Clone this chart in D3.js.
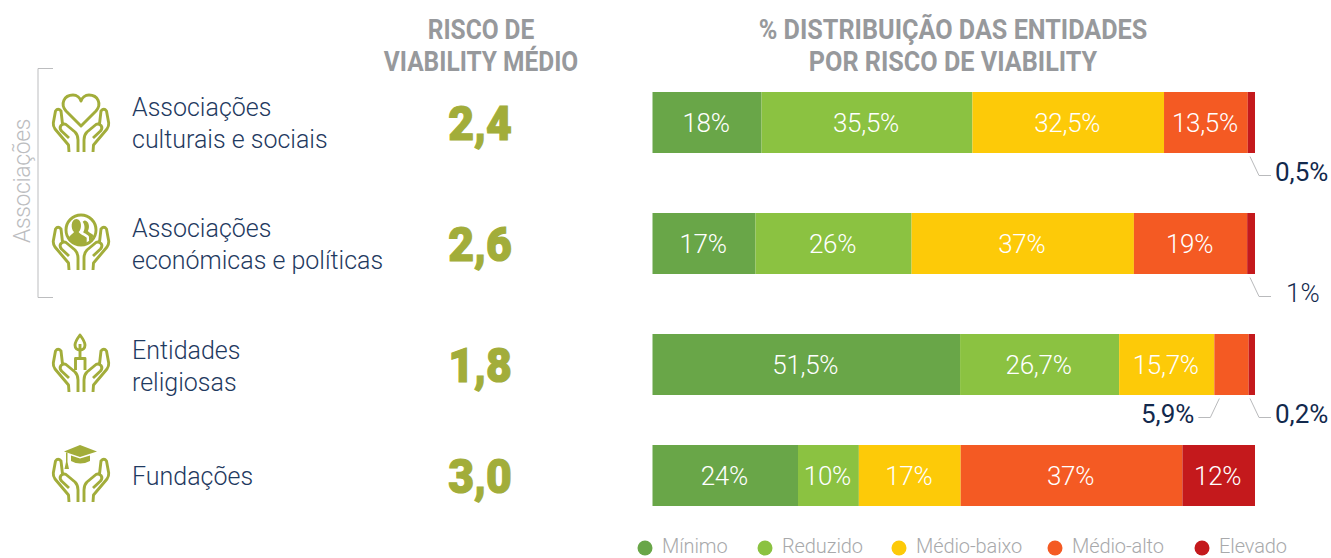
<!DOCTYPE html>
<html lang="pt">
<head>
<meta charset="utf-8">
<title>Risco de viability</title>
<script src="https://cdn.jsdelivr.net/npm/d3@7"></script>
<style>
  html, body { margin: 0; padding: 0; background: #fff; overflow: hidden; }
  svg { display: block; }
  text { font-family: Roboto, sans-serif; }
  .head { font-weight: 700; font-size: 28px; fill: #97999c; text-anchor: middle; }
  .row-label { font-weight: 300; font-size: 25px; fill: #1f3a5f; }
  .score { font-weight: 900; font-size: 49px; fill: #a2ad3a; stroke: #a2ad3a; stroke-width: 1.2px; text-anchor: middle; }
  .bar-label { font-weight: 300; font-size: 26px; fill: #fff; text-anchor: middle; letter-spacing: -0.3px; }
  .out-label { font-weight: 400; font-size: 26px; fill: #12294d; }
  .legend-label { font-weight: 300; font-size: 20px; fill: #a8a9ab; letter-spacing: -0.1px; }
  .icon-line { fill: none; stroke: #a2ad3a; stroke-width: 2.9; stroke-linecap: butt; stroke-linejoin: round; }
  .icon-fill { fill: #a2ad3a; stroke: none; }
</style>
</head>
<body>
<div id="chart"></div>
<script>
  // Data
  const rows = ["culturais", "economicas", "religiosas", "fundacoes"];
  const rowLabels = [
    ["Associações", "culturais e sociais"],
    ["Associações", "económicas e políticas"],
    ["Entidades", "religiosas"],
    ["Fundações"]
  ];
  const scores = ["2,4", "2,6", "1,8", "3,0"];
  const levels = ["Mínimo", "Reduzido", "Médio-baixo", "Médio-alto", "Elevado"];

  // Segment lengths as drawn (the printed labels are kept apart, the two differ a little)
  const minimo = [18.1, 17.1, 51.05, 24.15];
  const reduzido = [35.0, 25.9, 26.4, 10.1];
  const medioBaixo = [31.8, 36.9, 15.8, 16.9];
  const medioAlto = [13.9, 18.8, 5.7, 36.8];
  const elevado = [1.2, 1.3, 1.05, 12.05];

  const minimoLabels = ["18%", "17%", "51,5%", "24%"];
  const reduzidoLabels = ["35,5%", "26%", "26,7%", "10%"];
  const medioBaixoLabels = ["32,5%", "37%", "15,7%", "17%"];
  const medioAltoLabels = ["13,5%", "19%", "", "37%"];
  const elevadoLabels = ["", "", "", "12%"];

  // Small segments labelled outside the bar
  const calloutRows = ["culturais", "economicas", "religiosas", "religiosas"];
  const calloutLevels = ["Elevado", "Elevado", "Médio-alto", "Elevado"];
  const calloutLabels = ["0,5%", "1%", "5,9%", "0,2%"];

  const colors = ["#69a648", "#8bc241", "#fdca08", "#f45a23", "#c4191c"];

  const width = 1331;
  const height = 558;
  const barHeight = 61;

  const svg = d3.select("#chart").append("svg")
    .attr("width", width)
    .attr("height", height);

  // Scales
  const xScale = d3.scaleLinear().domain([0, 100]).range([652.5, 1255]);
  const rowTop = d3.scaleOrdinal().domain(rows).range([92, 213, 334, 445]);
  const labelTop = d3.scaleOrdinal().domain(rows).range([116, 237, 359, 485]);
  const colorScale = d3.scaleOrdinal().domain(levels).range(colors);

  // Stack the series
  const table = rows.map((r, i) => ({
    row: r,
    "Mínimo": minimo[i],
    "Reduzido": reduzido[i],
    "Médio-baixo": medioBaixo[i],
    "Médio-alto": medioAlto[i],
    "Elevado": elevado[i]
  }));
  const labelsByLevel = [minimoLabels, reduzidoLabels, medioBaixoLabels, medioAltoLabels, elevadoLabels];
  const stacked = d3.stack().keys(levels)(table);

  // Headers, squeezed because the original face is condensed
  const headers = [
    { x: 481, squeeze: 0.875, lines: ["RISCO DE", "VIABILITY MÉDIO"] },
    { x: 953, squeeze: 0.9, lines: ["% DISTRIBUIÇÃO DAS ENTIDADES", "POR RISCO DE VIABILITY"] }
  ];
  headers.forEach((h) => {
    h.lines.forEach((line, i) => {
      svg.append("text").attr("class", "head")
        .attr("transform", `translate(${h.x},${39 + i * 32}) scale(${h.squeeze},1)`)
        .text(line);
    });
  });

  // Bars
  const series = svg.selectAll(".series").data(stacked).enter().append("g")
    .attr("class", "series")
    .attr("fill", (d) => colorScale(d.key));

  series.selectAll("rect").data((d) => d).enter().append("rect")
    .attr("x", (d) => xScale(d[0]))
    .attr("y", (d) => rowTop(d.data.row))
    .attr("width", (d) => xScale(d[1]) - xScale(d[0]))
    .attr("height", barHeight);

  series.each(function (s, si) {
    d3.select(this).selectAll("text").data(s).enter().append("text")
      .attr("class", "bar-label")
      .attr("x", (d) => (xScale(d[0]) + xScale(d[1])) / 2 - 1)
      .attr("y", (d) => rowTop(d.data.row) + 40)
      .text((d, i) => labelsByLevel[si][i]);
  });

  // Scores and row names
  rows.forEach((r, i) => {
    svg.append("text").attr("class", "score")
      .attr("transform", `translate(480,${rowTop(r) + 48}) scale(0.91,1)`)
      .text(scores[i]);

    rowLabels[i].forEach((line, j) => {
      svg.append("text").attr("class", "row-label")
        .attr("x", 132).attr("y", labelTop(r) + j * 32).text(line);
    });
  });

  // Callouts for the thin segments
  const calloutLayout = [
    { side: 1, anchor: "start" },
    { side: 1, anchor: "start", labelX: 1286 },
    { side: -1, anchor: "end" },
    { side: 1, anchor: "start" }
  ];
  calloutRows.forEach((r, i) => {
    const level = stacked[levels.indexOf(calloutLevels[i])];
    const seg = level[rows.indexOf(r)];
    const layout = calloutLayout[i];
    const startX = layout.side > 0 ? xScale(seg[1]) - 5 : xScale(seg[0]) + 5;
    const y0 = rowTop(r) + barHeight + 3.5;
    const y1 = y0 + 19;
    svg.append("path")
      .attr("d", `M${startX},${y0}L${startX + layout.side * 9},${y1}h${layout.side * 12}`)
      .attr("fill", "none")
      .attr("stroke", "#b9babc")
      .attr("stroke-width", 1);
    const labelX = layout.labelX || (startX + layout.side * 25);
    svg.append("text").attr("class", "out-label")
      .attr("x", labelX)
      .attr("y", y1 + 5)
      .attr("text-anchor", layout.anchor)
      .attr("font-weight", i === 1 ? 300 : null)
      .style("font-weight", i === 1 ? 300 : null)
      .text(calloutLabels[i]);
  });

  // Bracket for the two association rows
  svg.append("path")
    .attr("d", "M53,68.5H38V297.5H53")
    .attr("fill", "none")
    .attr("stroke", "#bcbdbf")
    .attr("stroke-width", 1);
  svg.append("text")
    .attr("transform", "translate(30,181) rotate(-90)")
    .attr("text-anchor", "middle")
    .attr("font-weight", 300)
    .attr("font-size", 23)
    .attr("letter-spacing", "-0.4px")
    .attr("fill", "#bcbdbf")
    .text("Associações");

  // Icons: the same pair of hands with a different emblem above
  const hand = "M21,62L20.5,55L7,39Q5,36 5.3,33L7.5,21Q10,17.5 13,21L14.5,34" +
    "M21,48L13.5,41Q11,38 13,35.5Q15.5,33 18,34.5L27,42Q30,45 30,50V62";
  const defs = svg.append("defs");
  const hands = defs.append("g").attr("id", "hands");
  hands.append("path").attr("class", "icon-line").attr("d", hand);
  hands.append("path").attr("class", "icon-line").attr("d", hand)
    .attr("transform", "translate(66,0) scale(-1,1)");

  const icons = [
    { y: 90, draw: (g) => {
      g.append("path").attr("class", "icon-line")
        .attr("d", "M33,36L18,21C12,14 16,5 25,5C29,5 32,8 33,11C34,8 37,5 41,5C50,5 54,14 48,21Z");
    } },
    { y: 208, draw: (g) => {
      g.append("circle").attr("class", "icon-line").attr("cx", 33).attr("cy", 22).attr("r", 15).attr("stroke-width", 3);
      const people = g.append("g").attr("transform", "translate(-5,-3.5) scale(1.15)");
      people.append("path").attr("class", "icon-fill")
        .attr("d", "M22,31C22,27 26,26 27,24C24,21 24,13 29,12.5C34,13 34,21 31,24C32,26 36,27 38,29L38,33.5Q30,37 22,31Z");
      people.append("path").attr("class", "icon-fill")
        .attr("d", "M36,14C40,14 41,20 39,23C40,25 43,25 44,27Q43,30 40,32V28C39,26 35,25 35,24C37,21 36,17 34.5,15Z");
    } },
    { y: 330, draw: (g) => {
      g.append("path").attr("class", "icon-line")
        .attr("d", "M32,5C29,9 27,12 27,15C27,18 29,20 32,20C35,20 37,18 37,15C37,12 35,9 32,5Z");
      g.append("path").attr("class", "icon-line").attr("d", "M32,14V28M27.5,40V28.5H37V40");
    } },
    { y: 440, draw: (g) => {
      g.append("path").attr("class", "icon-fill").attr("d", "M16,11.5L32,5L49,11.5L32,17Z");
      g.append("path").attr("class", "icon-fill").attr("d", "M23,15.5L32,18.5L42,15.5V21Q32,26 23,21Z");
      g.append("path").attr("class", "icon-fill").attr("d", "M18,12.5H19.5V22L21,29H16.5L18,22Z");
    } }
  ];
  icons.forEach((ic) => {
    const g = svg.append("g").attr("transform", `translate(48,${ic.y})`);
    g.append("use").attr("href", "#hands");
    ic.draw(g);
  });

  // Legend
  const legendX = d3.scaleOrdinal().domain(levels).range([645, 765, 899, 1055, 1202]);
  const legendItem = svg.selectAll(".legend-item").data(levels).enter().append("g")
    .attr("class", "legend-item")
    .attr("transform", (d) => `translate(${legendX(d)},548)`);
  legendItem.append("circle").attr("r", 7.5).attr("fill", (d) => colorScale(d));
  legendItem.append("text").attr("class", "legend-label")
    .attr("x", 17).attr("y", 5).text((d) => d);
</script>
</body>
</html>
